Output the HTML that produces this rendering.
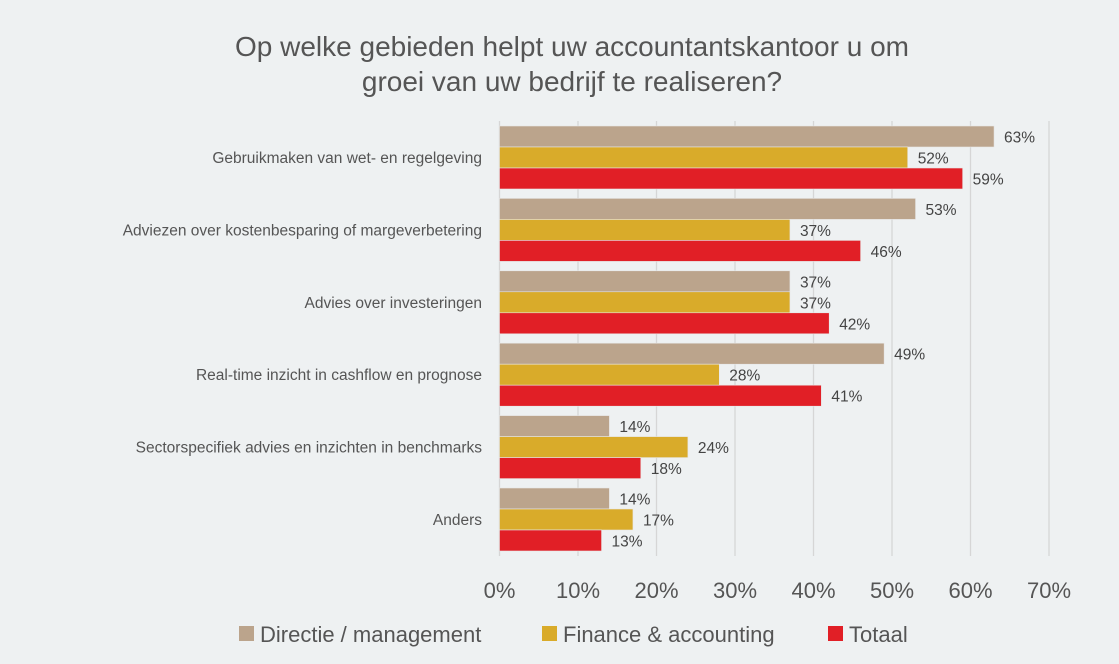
<!DOCTYPE html>
<html><head><meta charset="utf-8"><style>
html,body{margin:0;padding:0;background:#EEF1F2;}
body{width:1119px;height:659px;overflow:hidden;font-family:"Liberation Sans",sans-serif;}
</style></head><body>
<svg id="c" width="1119" height="659" xmlns="http://www.w3.org/2000/svg" style="font-family:'Liberation Sans',sans-serif">
<rect width="1119" height="659" fill="#EEF1F2"/>
<text x="572" y="56" text-anchor="middle" font-size="28" fill="#555">Op welke gebieden helpt uw accountantskantoor u om</text>
<text x="572" y="91" text-anchor="middle" font-size="28" fill="#555">groei van uw bedrijf te realiseren?</text>
<g id="grid"></g><g id="bars"></g><g id="labels"></g><g id="legend"></g>
</svg>
<script>
const categories=["Gebruikmaken van wet- en regelgeving","Adviezen over kostenbesparing of margeverbetering","Advies over investeringen","Real-time inzicht in cashflow en prognose","Sectorspecifiek advies en inzichten in benchmarks","Anders"];
const directie=[63,53,37,49,14,14];
const finance=[52,37,37,28,24,17];
const totaal=[59,46,42,41,18,13];
const ticks=[0,10,20,30,40,50,60,70];
const seriesNames=["Directie / management","Finance & accounting","Totaal"];
const colors=["#BBA48C","#D9AB2A","#E11F26"];
const NS="http://www.w3.org/2000/svg";
const x0=499.5,x1=1049,maxV=70;
const xs=v=>x0+(x1-x0)*v/maxV;
const gTop=126,gStep=72.4,barH=21;
function mk(t,a,p){const e=document.createElementNS(NS,t);for(const k in a)e.setAttribute(k,a[k]);p.appendChild(e);return e;}
const grid=document.getElementById('grid'),bars=document.getElementById('bars'),labels=document.getElementById('labels'),legend=document.getElementById('legend');
ticks.forEach(t=>{
 const l=mk('line',{x1:xs(t),x2:xs(t),y1:121,y2:556,stroke:'#D6D6D6','stroke-width':1.3},grid);
 
 
 const tx=mk('text',{x:xs(t),y:598,'text-anchor':'middle','font-size':22,fill:'#555'},labels);
 tx.textContent=t+'%';
 
 
});
const series=[directie,finance,totaal];
categories.forEach((c,i)=>{
 const gy=gTop+i*gStep;
 const ct=mk('text',{x:482,y:gy+37,'text-anchor':'end','font-size':15.5,fill:'#555'},labels);
 ct.textContent=c;
 
 
 series.forEach((s,j)=>{
  const y=gy+j*barH;
  const r=mk('rect',{x:x0,y:y,width:xs(s[i])-x0,height:barH,fill:colors[j],stroke:'#E6E6E6','stroke-width':0.6},bars);
  
  
  const v=mk('text',{x:xs(s[i])+10,y:y+barH/2+6,'font-size':15.5,fill:'#444'},labels);
  v.textContent=s[i]+'%';
  
  
 });
});
const lx=[239,542,828];
seriesNames.forEach((n,j)=>{
 const r=mk('rect',{x:lx[j],y:626,width:15,height:15,fill:colors[j]},legend);
 
 
 const t=mk('text',{x:lx[j]+21,y:642,'font-size':22,fill:'#555'},legend);
 t.textContent=n;
 
 
});
</script>
</body></html>
